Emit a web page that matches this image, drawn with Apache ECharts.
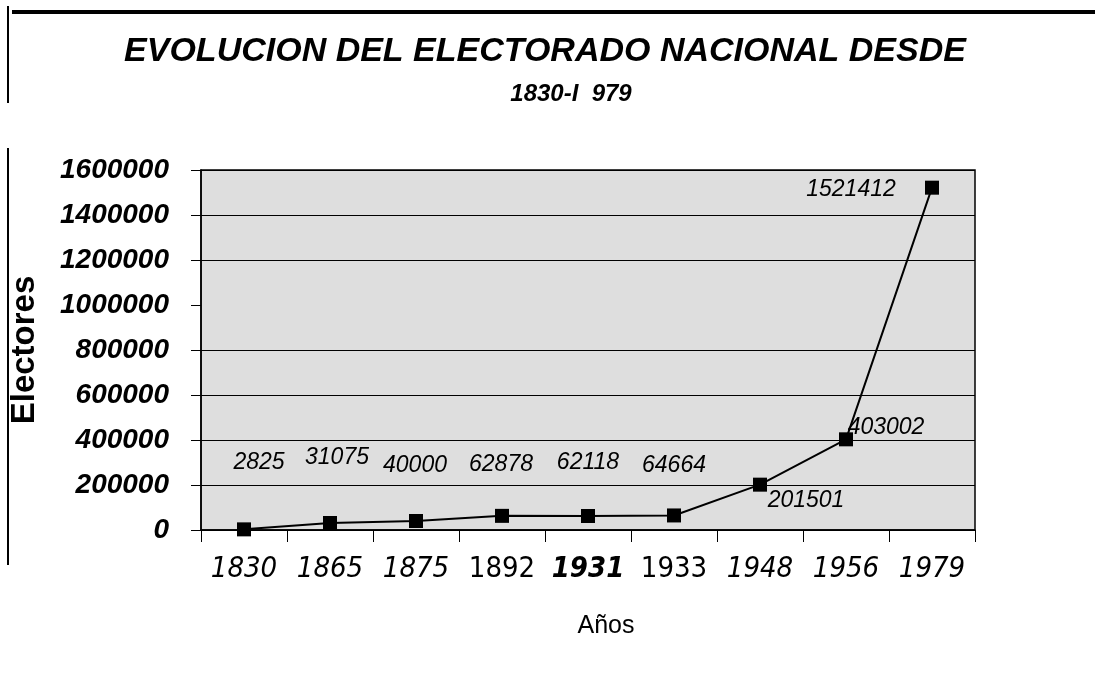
<!DOCTYPE html>
<html>
<head>
<meta charset="utf-8">
<script src="https://cdn.jsdelivr.net/npm/echarts@6/dist/echarts.min.js"></script>
<style>
  html, body { margin: 0; padding: 0; background: #fff; }
  #chart { width: 1095px; height: 691px; }
</style>
</head>
<body>
<div id="chart"></div>
<script>
// datos
var years = ['1830', '1865', '1875', '1892', '1931', '1933', '1948', '1956', '1979']
var electores = [2825, 31075, 40000, 62878, 62118, 64664, 201501, 403002, 1521412]
var yTicks = [0, 200000, 400000, 600000, 800000, 1000000, 1200000, 1400000, 1600000]

// estilo de cada etiqueta del eje x (el escaneo mezcla tipos)
var yearStyle = ['it', 'it', 'it', 'n', 'b', 'n', 'it', 'it', 'it']
// desplazamiento de cada etiqueta de valor respecto al punto
var labelOffset = [[15, -67], [7, -65], [-1, -55], [-1, -51], [0, -53], [0, -50], [46, 16], [40, -12], [-81, 2]]

var sans = "'Liberation Sans', Arial, sans-serif"
var narrow = "'Liberation Sans Narrow', 'DejaVu Sans Condensed', 'Arial Narrow', sans-serif"

var chart = echarts.init(document.getElementById('chart'))

var seriesData = electores.map(function (v, i) {
  return {
    value: v,
    label: {
      show: true,
      position: 'inside',
      offset: labelOffset[i],
      formatter: '{c}',
      fontFamily: sans,
      fontStyle: 'italic',
      fontSize: 23,
      color: '#000'
    }
  }
})

chart.setOption({
  backgroundColor: '#fff',
  animation: false,
  title: [{
    text: 'EVOLUCION DEL ELECTORADO NACIONAL DESDE',
    left: 540,
    top: 30,
    textAlign: 'center',
    textStyle: {
      fontFamily: sans,
      fontStyle: 'italic',
      fontWeight: 'bold',
      fontSize: 34,
      color: '#000'
    }
  }, {
    text: '1830-I  979',
    left: 566,
    top: 77,
    textAlign: 'center',
    textStyle: {
      fontFamily: sans,
      fontStyle: 'italic',
      fontWeight: 'bold',
      fontSize: 24,
      color: '#000'
    }
  }],
  graphic: [
    { type: 'line', shape: { x1: 12, y1: 12, x2: 1095, y2: 12 }, style: { stroke: '#000', lineWidth: 4 } },
    { type: 'line', shape: { x1: 8, y1: 6, x2: 8, y2: 103 }, style: { stroke: '#000', lineWidth: 2 } },
    { type: 'line', shape: { x1: 8, y1: 148, x2: 8, y2: 565 }, style: { stroke: '#000', lineWidth: 2 } }
  ],
  grid: {
    left: 197,
    right: 120,
    top: 170,
    bottom: 161,
    show: true,
    backgroundColor: '#dedede',
    borderColor: '#000',
    borderWidth: 1.5
  },
  xAxis: {
    type: 'category',
    data: years,
    boundaryGap: true,
    name: 'Años',
    nameLocation: 'middle',
    nameGap: 84,
    nameTextStyle: {
      fontFamily: sans,
      fontSize: 25,
      color: '#000',
      padding: [0, 0, 0, 36]
    },
    axisLine: { lineStyle: { color: '#000', width: 1.5 } },
    axisTick: { show: true, interval: 0, length: 12, lineStyle: { color: '#000' } },
    axisLabel: {
      interval: 0,
      margin: 25,
      formatter: function (val, i) {
        return '{' + yearStyle[i] + '|' + val + '}'
      },
      rich: {
        it: { fontFamily: narrow, fontStyle: 'italic', fontSize: 29, color: '#000' },
        n: { fontFamily: narrow, fontSize: 29, color: '#000' },
        b: { fontFamily: narrow, fontStyle: 'italic', fontWeight: 'bold', fontSize: 29, color: '#000' }
      }
    }
  },
  yAxis: {
    type: 'value',
    min: yTicks[0],
    max: yTicks[yTicks.length - 1],
    interval: yTicks[1] - yTicks[0],
    name: 'Electores',
    nameLocation: 'middle',
    nameGap: 160,
    nameRotate: 90,
    nameTextStyle: {
      fontFamily: sans,
      fontWeight: 'bold',
      fontSize: 33,
      color: '#000'
    },
    axisLine: { show: true, lineStyle: { color: '#000', width: 1.5 } },
    axisTick: { show: true, length: 10, lineStyle: { color: '#000' } },
    axisLabel: {
      margin: 32,
      formatter: function (v) { return String(v) },
      fontFamily: sans,
      fontStyle: 'italic',
      fontWeight: 'bold',
      fontSize: 28,
      color: '#000'
    },
    splitLine: {
      show: true,
      lineStyle: {
        color: ['#000', '#000', '#000', '#000', '#000', 'transparent', '#000', '#000', '#000'],
        width: 1
      }
    }
  },
  series: [{
    type: 'line',
    data: seriesData,
    symbol: 'rect',
    symbolSize: 14,
    itemStyle: { color: '#000' },
    lineStyle: { color: '#000', width: 2 }
  }]
})
</script>
</body>
</html>
